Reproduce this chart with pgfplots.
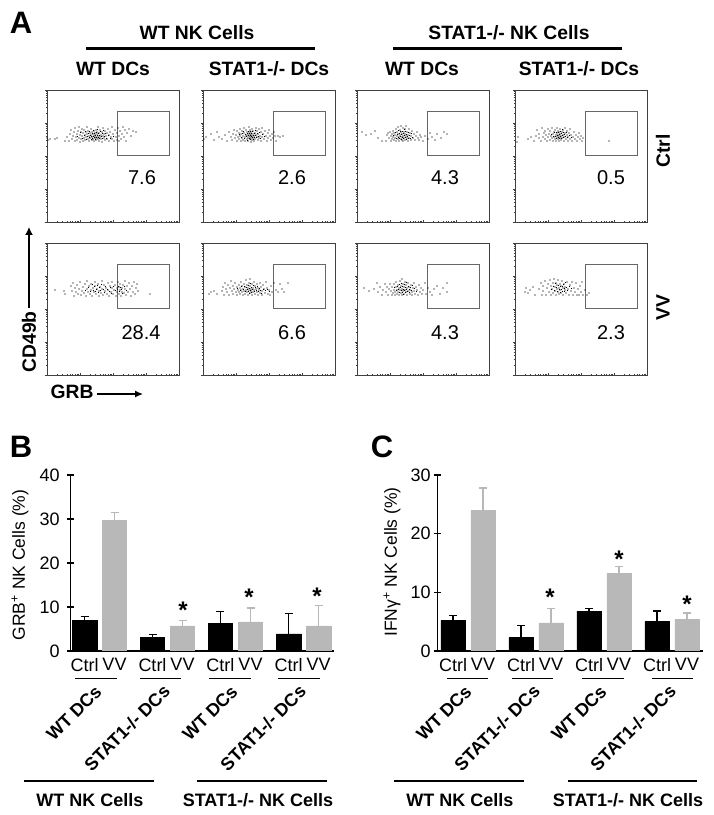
\documentclass[border=0pt]{standalone}
\usepackage{fontspec}
\setmainfont{Liberation Sans}
\usepackage{pgfplots}
\usepackage{pgfplotstable}
\pgfplotsset{compat=1.18}
\usetikzlibrary{arrows.meta}

\definecolor{barblack}{HTML}{000000}
\definecolor{bargray}{HTML}{B8B8B8}
\definecolor{framegray}{HTML}{404040}
\definecolor{gategray}{HTML}{666666}

\newcommand{\fs}[1]{\fontsize{#1}{#1}\selectfont}

% bar data: position in px, mean, upper error
\pgfplotstableread{
x y e
84.7 7.0 0.8
152.5 3.1 0.6
220.3 6.3 2.7
288.7 3.9 4.6
}\grbctrl
\pgfplotstableread{
x y e
114.5 29.7 1.7
182.5 5.7 1.3
250.5 6.6 3.2
318.7 5.7 4.7
}\grbvv
\pgfplotstableread{
x y e
453 5.2 0.8
521 2.3 2.1
589 6.8 0.5
657 5.0 1.8
}\ifnctrl
\pgfplotstableread{
x y e
483 24.0 3.8
551 4.8 2.4
619 13.2 1.2
687 5.45 1.05
}\ifnvv

\pgfplotsset{
  flow/.style={
    scale only axis, width=132pt, height=132pt, anchor=south west,
    xmin=0, xmax=132, ymin=0, ymax=132,
    axis line style={framegray, line width=0.9pt},
    xtick={0,33,66,99,132}, ytick={0,33,66,99,132},
    xticklabels={}, yticklabels={},
    minor xtick={9.9,15.7,19.9,23.1,25.7,27.9,29.8,31.5,42.9,48.7,52.9,56.1,58.7,60.9,62.8,64.5,75.9,81.7,85.9,89.1,91.7,93.9,95.8,97.5,108.9,114.7,118.9,122.1,124.7,126.9,128.8,130.5},
    minor ytick={9.9,15.7,19.9,23.1,25.7,27.9,29.8,31.5,42.9,48.7,52.9,56.1,58.7,60.9,62.8,64.5,75.9,81.7,85.9,89.1,91.7,93.9,95.8,97.5,108.9,114.7,118.9,122.1,124.7,126.9,128.8,130.5},
    xtick align=inside, ytick align=outside,
    xtick pos=bottom, ytick pos=left,
    major tick length=2.4pt, minor tick length=1.3pt,
    tick style={framegray, line width=0.5pt},
  },
  bars/.style={
    scale only axis, height=176pt, anchor=south west,
    ymin=0, ybar, bar width=24.3pt, bar shift=0pt,
    axis x line=bottom, axis y line=left,
    axis line style={-, line width=1.5pt, black},
    xtick style={draw=none},
    ytick style={black, line width=1.5pt},
    major tick length=7pt,
    tick label style={font=\fs{18}},
    /pgf/number format/assume math mode=true,
    xtick pos=bottom, ytick pos=left,
  },
  err/.style={error bars/.cd, y dir=plus, y explicit,
    error bar style={#1, line width=1.5pt},
    error mark options={#1, rotate=90, mark size=4pt, line width=1.3pt}},
}

% one scatter panel: left, bottom, dots
\newcommand{\flowpanel}[3]{
  \begin{axis}[flow, at={(#1pt,#2pt)}]
    \addplot[only marks, mark=*, mark size=0.38pt, mark options={draw=none, fill=black}] coordinates {#3};
    \addplot[gategray, line width=1pt, no marks] coordinates {(70,66) (122,66) (122,110) (70,110) (70,66)};
  \end{axis}
}

\begin{document}
\begin{tikzpicture}[x=1pt, y=1pt]
\path (0,0) rectangle (714,815);

% dot positions are estimated by eye from each cloud
% row 1
\flowpanel{47}{593}{(0,84)(1,82)(3,83)(8,83)(10,84)(18,81)(20,85)(22,81)(23,88)(24,92)(25,83)(26,86)(27,90)(28,81)(28,94)(29,85)(30,88)(30,82)(31,91)(32,84)(32,95)(33,87)(33,80)(34,90)(34,83)(35,86)(35,93)(36,81)(36,89)(37,84)(37,92)(38,87)(38,82)(39,90)(39,85)(40,88)(40,95)(41,83)(41,91)(42,86)(42,81)(43,89)(43,84)(44,93)(44,87)(45,82)(45,90)(45,85)(46,88)(46,83)(47,86)(47,91)(47,81)(48,84)(48,89)(48,87)(49,82)(49,92)(49,85)(50,88)(50,84)(50,90)(51,83)(51,86)(51,95)(52,81)(52,89)(53,85)(53,92)(54,87)(54,83)(55,90)(55,80)(56,86)(56,94)(57,84)(57,88)(58,82)(58,91)(59,86)(60,89)(60,83)(61,93)(62,81)(62,87)(63,90)(64,85)(65,83)(65,95)(66,88)(67,81)(68,92)(69,85)(70,89)(70,82)(71,94)(72,86)(73,91)(74,83)(75,88)(76,95)(77,85)(78,92)(79,81)(80,89)(82,93)(84,86)(86,91)(89,90)(72,81)
(30.5,85.5)(33.5,89.5)(35.5,83.5)(37.5,86.5)(38.5,90.5)(39.5,82.5)(40.5,85.5)(41.5,88.5)(42.5,84.5)(42.5,90.5)(43.5,86.5)(44.5,82.5)(44.5,85.5)(45.5,88.5)(45.5,83.5)(46.5,91.5)(46.5,85.5)(47.5,88.5)(47.5,84.5)(48.5,86.5)(48.5,82.5)(49.5,89.5)(49.5,84.5)(50.5,86.5)(50.5,92.5)(51.5,88.5)(51.5,84.5)(52.5,86.5)(52.5,83.5)(53.5,90.5)(54.5,85.5)(55.5,83.5)(55.5,88.5)(56.5,91.5)(57.5,85.5)(58.5,88.5)(59.5,83.5)(61.5,86.5)(63.5,83.5)(66.5,85.5)}
\flowpanel{203}{593}{(1,83)(3,85)(8,88)(11,82)(14,90)(16,85)(19,83)(22,87)(24,81)(26,90)(28,85)(29,82)(30,88)(31,92)(32,84)(33,87)(34,81)(34,91)(35,85)(36,89)(36,83)(37,93)(37,86)(38,81)(38,88)(39,91)(39,84)(40,86)(40,82)(41,94)(41,89)(42,85)(42,81)(43,87)(43,92)(44,83)(44,90)(44,86)(45,88)(45,81)(45,84)(46,95)(46,90)(46,86)(47,83)(47,88)(47,92)(47,85)(48,80)(48,87)(48,90)(48,84)(49,82)(49,93)(49,86)(50,88)(50,84)(50,91)(51,81)(51,86)(52,89)(52,83)(53,94)(53,87)(54,85)(54,91)(55,82)(55,88)(56,84)(56,93)(57,86)(58,90)(58,81)(59,85)(59,94)(60,88)(61,83)(62,91)(63,86)(64,81)(65,89)(65,84)(66,92)(67,86)(68,82)(69,88)(70,84)(71,90)(72,86)(73,81)(75,86)(77,85)(80,86)
(36.5,87.5)(38.5,84.5)(39.5,88.5)(40.5,90.5)(41.5,83.5)(42.5,87.5)(43.5,85.5)(44.5,88.5)(44.5,81.5)(45.5,90.5)(45.5,86.5)(46.5,83.5)(46.5,88.5)(47.5,86.5)(47.5,90.5)(47.5,82.5)(48.5,85.5)(48.5,88.5)(49.5,84.5)(49.5,90.5)(50.5,86.5)(50.5,82.5)(51.5,88.5)(51.5,84.5)(52.5,91.5)(52.5,86.5)(53.5,84.5)(54.5,88.5)(55.5,85.5)(56.5,89.5)(57.5,83.5)(59.5,87.5)(61.5,85.5)}
\flowpanel{357}{593}{(5,90)(9,87)(14,88)(18,91)(21,84)(25,81)(29,81)(30,87)(31,89)(32,84)(33,90)(34,81)(34,86)(35,88)(35,83)(36,91)(36,85)(37,82)(37,89)(38,87)(38,84)(39,93)(39,81)(40,90)(40,86)(41,83)(41,95)(41,88)(42,85)(42,81)(43,92)(43,87)(44,83)(44,90)(44,96)(45,85)(45,88)(45,82)(46,94)(46,86)(46,81)(47,90)(47,84)(48,88)(48,93)(48,82)(49,86)(49,96)(50,84)(50,90)(51,81)(51,87)(52,93)(52,84)(53,89)(54,82)(54,86)(55,91)(56,84)(57,88)(58,82)(59,86)(60,90)(61,84)(62,82)(63,87)(64,85)(66,81)(68,86)(71,83)(73,89)(75,85)(78,82)(80,88)(84,84)(87,90)(90,88)
(36.5,86.5)(38.5,89.5)(39.5,83.5)(40.5,87.5)(41.5,84.5)(41.5,91.5)(42.5,88.5)(42.5,83.5)(43.5,85.5)(43.5,90.5)(44.5,87.5)(44.5,82.5)(45.5,90.5)(45.5,84.5)(46.5,88.5)(46.5,83.5)(47.5,86.5)(47.5,92.5)(48.5,84.5)(48.5,90.5)(49.5,87.5)(49.5,82.5)(50.5,85.5)(51.5,89.5)(51.5,83.5)(52.5,86.5)(53.5,83.5)(54.5,88.5)(55.5,84.5)}
\flowpanel{515}{593}{(2,80)(3,85)(13,83)(16,85)(19,81)(21,86)(22,92)(24,84)(24,88)(26,81)(27,94)(28,85)(29,89)(30,83)(30,91)(31,87)(32,81)(33,85)(33,93)(34,88)(35,82)(35,91)(36,86)(37,84)(37,94)(38,88)(38,81)(39,90)(39,85)(40,83)(40,92)(41,87)(41,81)(42,94)(42,85)(42,89)(43,83)(43,91)(43,87)(44,81)(44,86)(44,90)(45,84)(45,93)(45,88)(46,82)(46,86)(47,90)(47,84)(48,87)(48,92)(49,81)(49,85)(50,89)(50,94)(51,83)(52,87)(52,91)(53,81)(53,85)(54,89)(55,83)(55,93)(56,87)(57,81)(58,85)(59,90)(60,83)(61,87)(62,81)(63,85)(64,89)(65,83)(66,86)(67,81)(68,84)(94,81)
(36.5,87.5)(38.5,85.5)(39.5,89.5)(40.5,85.5)(41.5,83.5)(41.5,89.5)(42.5,86.5)(43.5,84.5)(43.5,89.5)(44.5,87.5)(44.5,83.5)(45.5,85.5)(45.5,90.5)(46.5,88.5)(46.5,83.5)(47.5,86.5)(47.5,92.5)(48.5,84.5)(48.5,89.5)(49.5,87.5)(50.5,85.5)(51.5,89.5)(52.5,84.5)(54.5,86.5)(56.5,84.5)}
% row 2
\flowpanel{47}{440}{(0,82)(8,85)(17,84)(18,81)(24,89)(25,84)(26,92)(27,79)(28,87)(29,83)(30,90)(31,81)(32,86)(33,93)(34,80)(35,84)(36,88)(37,82)(38,91)(39,79)(40,86)(40,94)(41,83)(42,89)(43,81)(44,85)(44,91)(45,79)(46,87)(47,83)(48,93)(48,89)(49,81)(50,86)(51,91)(52,84)(52,79)(53,88)(54,82)(55,94)(55,86)(56,80)(57,90)(58,84)(59,87)(60,81)(61,92)(61,85)(62,79)(63,89)(64,83)(65,87)(65,93)(66,81)(67,85)(68,90)(69,79)(70,87)(70,83)(71,93)(72,81)(72,88)(73,85)(73,91)(74,79)(75,83)(75,87)(76,90)(77,82)(78,94)(78,86)(79,80)(80,89)(81,83)(82,92)(83,86)(84,79)(85,89)(86,83)(87,93)(88,81)(89,87)(90,91)(91,84)(103,81)
(38.5,84.5)(41.5,87.5)(43.5,83.5)(45.5,90.5)(46.5,84.5)(47.5,88.5)(48.5,83.5)(49.5,85.5)(50.5,89.5)(51.5,82.5)(52.5,87.5)(53.5,84.5)(54.5,90.5)(56.5,85.5)(57.5,82.5)(58.5,88.5)(60.5,85.5)(62.5,83.5)(63.5,87.5)(64.5,81.5)(66.5,88.5)(68.5,84.5)(70.5,85.5)(71.5,88.5)(72.5,83.5)(73.5,87.5)(74.5,85.5)(75.5,81.5)(77.5,88.5)(79.5,84.5)}
\flowpanel{203}{440}{(6,81)(8,83)(11,84)(14,81)(19,84)(20,88)(21,80)(22,92)(23,86)(24,83)(25,90)(26,80)(27,87)(28,94)(29,84)(30,89)(30,81)(31,86)(32,92)(33,83)(34,88)(34,80)(35,85)(36,90)(36,83)(37,87)(37,81)(38,93)(38,85)(39,89)(39,83)(40,86)(40,80)(41,91)(41,84)(42,88)(42,81)(43,95)(43,85)(44,90)(44,83)(45,87)(45,80)(46,92)(46,85)(47,96)(47,89)(47,82)(48,86)(48,84)(49,91)(49,80)(50,87)(50,83)(51,93)(51,85)(52,89)(52,81)(53,86)(54,83)(54,91)(55,80)(55,87)(56,85)(57,92)(57,82)(58,88)(59,84)(59,80)(60,90)(61,86)(62,82)(63,93)(64,87)(65,81)(66,85)(67,80)(68,89)(69,83)(71,92)(73,85)(75,83)(77,91)(79,86)(81,83)(85,92)
(34.5,86.5)(37.5,84.5)(38.5,88.5)(40.5,85.5)(41.5,88.5)(42.5,83.5)(43.5,87.5)(44.5,85.5)(45.5,83.5)(45.5,89.5)(46.5,86.5)(46.5,81.5)(47.5,84.5)(47.5,91.5)(48.5,87.5)(48.5,82.5)(49.5,85.5)(50.5,89.5)(51.5,83.5)(52.5,87.5)(53.5,84.5)(54.5,88.5)(55.5,83.5)(56.5,86.5)(57.5,84.5)(58.5,81.5)(60.5,85.5)(62.5,84.5)(64.5,85.5)(66.5,83.5)}
\flowpanel{357}{440}{(7,87)(12,84)(17,86)(20,92)(21,83)(23,88)(25,80)(26,85)(28,91)(29,83)(30,88)(31,80)(32,86)(33,91)(34,84)(35,80)(35,88)(36,82)(37,85)(37,91)(38,83)(38,80)(39,88)(39,93)(40,85)(40,81)(41,90)(41,83)(42,87)(42,80)(43,94)(43,85)(44,89)(44,82)(45,96)(45,86)(45,80)(46,91)(46,84)(47,88)(47,81)(48,93)(48,85)(49,90)(49,83)(50,87)(50,80)(51,92)(51,84)(52,88)(53,81)(53,85)(54,90)(55,83)(55,80)(56,87)(57,92)(57,84)(58,81)(59,88)(60,85)(61,80)(62,90)(63,83)(64,87)(65,81)(66,85)(68,92)(69,81)(71,87)(73,83)(75,80)(77,86)(80,89)(83,81)(86,87)(90,92)(90,83)
(37.5,87.5)(39.5,84.5)(40.5,88.5)(41.5,85.5)(42.5,82.5)(42.5,90.5)(43.5,87.5)(44.5,84.5)(44.5,91.5)(45.5,82.5)(45.5,88.5)(46.5,85.5)(46.5,80.5)(47.5,90.5)(47.5,84.5)(48.5,87.5)(48.5,82.5)(49.5,85.5)(49.5,92.5)(50.5,83.5)(51.5,88.5)(52.5,85.5)(52.5,82.5)(53.5,87.5)(54.5,84.5)(55.5,89.5)(57.5,86.5)(59.5,83.5)}
\flowpanel{515}{440}{(10,83)(11,87)(13,82)(15,85)(18,88)(20,80)(24,86)(26,92)(27,80)(28,89)(28,84)(30,94)(31,80)(32,87)(33,91)(34,83)(35,95)(36,89)(36,80)(37,86)(38,92)(38,82)(39,96)(40,88)(40,84)(41,92)(41,80)(42,86)(42,90)(43,83)(43,95)(44,87)(44,81)(45,91)(45,85)(46,89)(46,82)(47,94)(48,87)(48,80)(49,91)(50,85)(50,88)(51,82)(52,93)(53,86)(54,80)(55,90)(56,84)(57,93)(58,80)(59,87)(60,83)(61,92)(62,80)(63,86)(64,80)(65,89)(66,83)(67,93)(68,80)(70,85)(72,80)(74,82)
(36.5,85.5)(38.5,88.5)(39.5,84.5)(40.5,91.5)(41.5,87.5)(42.5,83.5)(43.5,89.5)(44.5,85.5)(45.5,88.5)(45.5,82.5)(46.5,85.5)(47.5,88.5)(47.5,83.5)(48.5,90.5)(49.5,86.5)(49.5,83.5)(50.5,92.5)(51.5,87.5)(52.5,84.5)(54.5,88.5)(56.5,86.5)}

% bar panels
\begin{axis}[bars, at={(70.7pt,164pt)}, width=263.3pt, xmin=70.7, xmax=334, ymax=40, ytick={0,10,20,30,40},
    yticklabel style={xshift=-4pt},
    xtick={84.7,114.5,152.5,182.5,220.3,250.5,288.7,318.7}, xticklabels={Ctrl,VV,Ctrl,VV,Ctrl,VV,Ctrl,VV}]
  \addplot[barblack, fill=barblack, err=barblack] table[x=x, y=y, y error=e] {\grbctrl};
  \addplot[bargray, fill=bargray, err=bargray] table[x=x, y=y, y error=e] {\grbvv};
\end{axis}
\begin{axis}[bars, at={(437.7pt,164pt)}, width=265pt, xmin=437.7, xmax=702.7, ymax=30, ytick={0,10,20,30},
    xtick={453,483,521,551,589,619,657,687}, xticklabels={Ctrl,VV,Ctrl,VV,Ctrl,VV,Ctrl,VV}]
  \addplot[barblack, fill=barblack, err=barblack] table[x=x, y=y, y error=e] {\ifnctrl};
  \addplot[bargray, fill=bargray, err=bargray] table[x=x, y=y, y error=e] {\ifnvv};
\end{axis}

% text, y measured from the top of the picture
\def\Y#1{815-#1}
\tikzset{lab/.style={inner sep=0pt, font=\fs{19.3}\bfseries}, num/.style={inner sep=0pt, font=\fs{20}},
  blab/.style={inner sep=0pt, font=\fs{18}\bfseries}, big/.style={inner sep=0pt, font=\fs{31}\bfseries},
  star/.style={inner sep=0pt, font=\fs{24}\bfseries}}

\node[big] at (21,{\Y{23}}) {A};
\node[big] at (21,{\Y{447}}) {B};
\node[big] at (382,{\Y{447}}) {C};

\node[lab] at (197,{\Y{33}}) {WT NK Cells};
\node[lab] at (509,{\Y{33}}) {STAT1-/- NK Cells};
\draw[line width=3.5pt] (86,{\Y{48.3}}) -- (315,{\Y{48.3}});
\draw[line width=3.5pt] (393,{\Y{48.3}}) -- (622,{\Y{48.3}});
\node[lab] at (113,{\Y{69}}) {WT DCs};
\node[lab] at (269,{\Y{69}}) {STAT1-/- DCs};
\node[lab] at (422,{\Y{69}}) {WT DCs};
\node[lab] at (579,{\Y{69}}) {STAT1-/- DCs};
\node[lab, rotate=90] at (663,{\Y{151}}) {Ctrl};
\node[lab, rotate=90] at (663,{\Y{308}}) {VV};

\node[num] at (142,{\Y{178}}) {7.6};
\node[num] at (292,{\Y{178}}) {2.6};
\node[num] at (445,{\Y{178}}) {4.3};
\node[num] at (611,{\Y{178}}) {0.5};
\node[num] at (141,{\Y{333}}) {28.4};
\node[num] at (292,{\Y{333}}) {6.6};
\node[num] at (445,{\Y{333}}) {4.3};
\node[num] at (611,{\Y{333}}) {2.3};

\node[lab, rotate=90] at (29,{\Y{342}}) {CD49b};
\draw[-{Latex[length=8pt,width=8pt]}, line width=1.4pt] (29,{\Y{308}}) -- (29,{\Y{227}});
\node[lab] at (72,{\Y{392}}) {GRB};
\draw[-{Latex[length=8pt,width=7pt]}, line width=1.2pt] (97,{\Y{394}}) -- (143,{\Y{394}});

\node[inner sep=0pt, rotate=90, font=\fs{17.5}] at (20,{\Y{565}}) {GRB\textsuperscript{+} NK Cells (\%)};
\node[inner sep=0pt, rotate=90, font=\fs{17.5}] at (392,{\Y{562}}) {IFNγ\textsuperscript{+} NK Cells (\%)};

\foreach \a/\b in {75/117,140/181,209/251,278/320,447/488,512/553,582/624,652/693}
  \draw[line width=0.9pt] (\a,{\Y{678}}) -- (\b,{\Y{678}});
\foreach \a/\b in {24/154,197/327,394/524,568/697}
  \draw[line width=2.6pt] (\a,{\Y{781}}) -- (\b,{\Y{781}});

\foreach \cx in {74,210,444,579}
  \node[blab, rotate=45] at (\cx,{\Y{713}}) {WT DCs};
\foreach \cx in {127,263,497,633}
  \node[blab, rotate=45] at (\cx,{\Y{728}}) {STAT1-/- DCs};

\foreach \cx in {90,460}
  \node[blab] at (\cx,{\Y{800}}) {WT NK Cells};
\foreach \cx in {258,628}
  \node[blab] at (\cx,{\Y{800}}) {STAT1-/- NK Cells};

\foreach \cx/\cy in {183/610,249/597,317/596,550/597,619/559,687/604}
  \node[star] at (\cx,{\Y{\cy}}) {*};
\end{tikzpicture}
\end{document}
